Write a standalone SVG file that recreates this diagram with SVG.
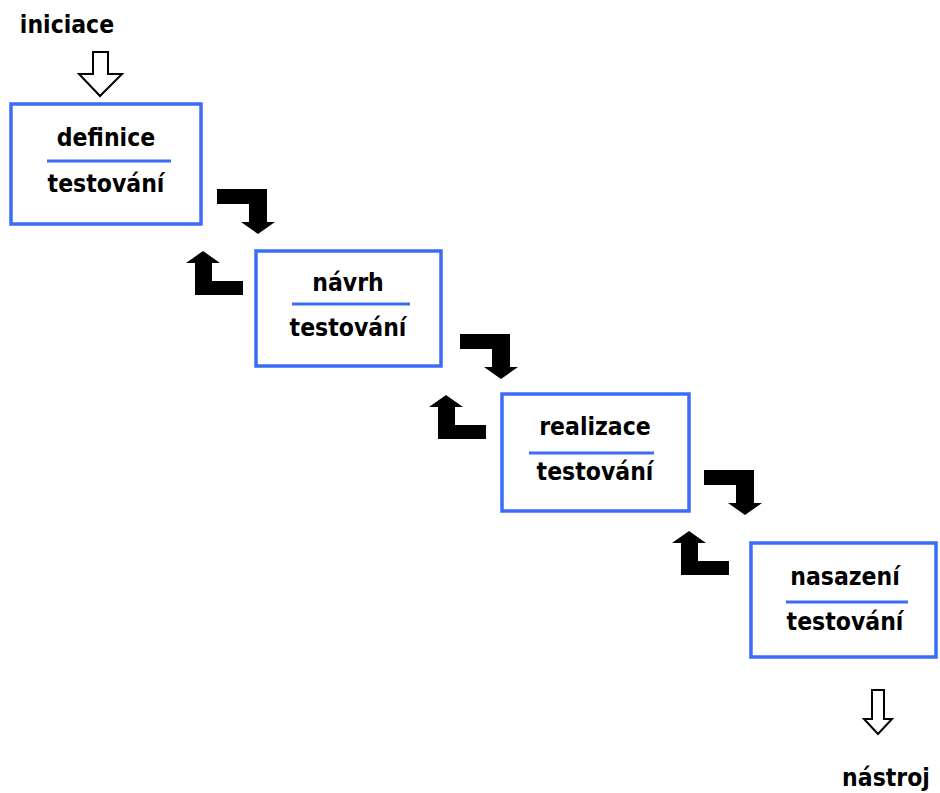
<svg xmlns="http://www.w3.org/2000/svg" xmlns:xlink="http://www.w3.org/1999/xlink" width="940" height="793" viewBox="0 0 940 793">
  <style>
    .box { fill: #ffffff; stroke: #3b6cf6; stroke-width: 3.5; }
    .rule { stroke: #3b6cf6; stroke-width: 3; }
    .lbl { font-family: "DejaVu Sans Condensed", "DejaVu Sans", Verdana, sans-serif; font-weight: bold; font-size: 24.5px; fill: #000000; text-anchor: middle; }
    .elbow { fill: #000000; }
    .hollow { fill: #ffffff; stroke: #000000; stroke-width: 2; stroke-linejoin: miter; }
  </style>
  <defs>
    <!-- forward step: right then down -->
    <path id="stepDown" d="M0,0 H50 V33 H58 L41,45 L24,33 H32 V15 H0 Z"/>
    <!-- feedback step: left then up (origin at arrow tip) -->
    <path id="stepUp" d="M0,0 L17,12 H9 V30 H40 V44 H-8 V12 H-17 Z"/>
  </defs>

  <rect width="940" height="793" fill="#ffffff"/>

  <g id="connectors">
    <path class="hollow" d="M93,52 H108 V74 H122 L100,96 L79,74 H93 Z"/>
    <use class="elbow" xlink:href="#stepDown" transform="translate(217,189)"/>
    <use class="elbow" xlink:href="#stepUp" transform="translate(203,251)"/>
    <use class="elbow" xlink:href="#stepDown" transform="translate(460,334)"/>
    <use class="elbow" xlink:href="#stepUp" transform="translate(446,395)"/>
    <use class="elbow" xlink:href="#stepDown" transform="translate(704,470)"/>
    <use class="elbow" xlink:href="#stepUp" transform="translate(689,531)"/>
    <path class="hollow" d="M872,690 H884 V719 H892 L878,734 L864,719 H872 Z"/>
  </g>

  <g id="start">
    <text class="lbl" x="67" y="33">iniciace</text>
  </g>

  <g id="definice">
    <rect class="box" x="11" y="104" width="190" height="120"/>
    <text class="lbl" x="106" y="146">definice</text>
    <line class="rule" x1="47" y1="161" x2="171" y2="161"/>
    <text class="lbl" x="106" y="192">testování</text>
  </g>

  <g id="navrh">
    <rect class="box" x="256" y="251" width="185" height="115"/>
    <text class="lbl" x="348" y="291">návrh</text>
    <line class="rule" x1="292" y1="304" x2="410" y2="304"/>
    <text class="lbl" x="348" y="336">testování</text>
  </g>

  <g id="realizace">
    <rect class="box" x="502" y="394" width="187" height="117"/>
    <text class="lbl" x="595" y="435">realizace</text>
    <line class="rule" x1="529" y1="453" x2="654" y2="453"/>
    <text class="lbl" x="595" y="480">testování</text>
  </g>

  <g id="nasazeni">
    <rect class="box" x="751" y="543" width="185" height="114"/>
    <text class="lbl" x="845" y="585">nasazení</text>
    <line class="rule" x1="786" y1="602" x2="908" y2="602"/>
    <text class="lbl" x="845" y="630">testování</text>
  </g>

  <g id="end">
    <text class="lbl" x="886" y="786">nástroj</text>
  </g>
</svg>
